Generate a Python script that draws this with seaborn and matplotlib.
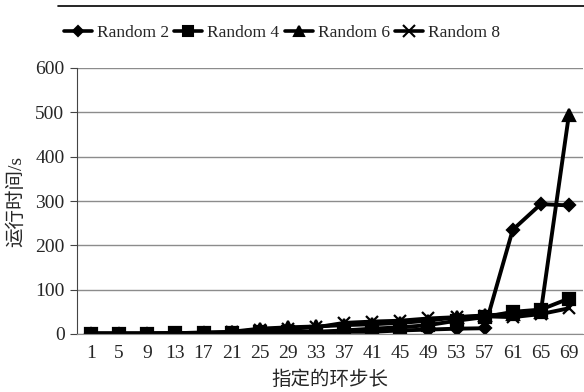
import numpy as np
import pandas as pd
import seaborn as sns
import matplotlib.pyplot as plt
from matplotlib.lines import Line2D

steps = [1, 5, 9, 13, 17, 21, 25, 29, 33, 37, 41, 45, 49, 53, 57, 61, 65, 69]
random2 = [1, 1, 1, 1, 2, 2, 3, 3, 3, 5, 5, 8, 10, 12, 13, 235, 293, 290]
random4 = [1, 1, 1, 2, 2, 3, 5, 5, 5, 8, 12, 15, 20, 30, 38, 50, 55, 80]
random6 = [1, 1, 1, 2, 3, 5, 12, 15, 17, 20, 22, 25, 30, 38, 42, 45, 50, 495]
random8 = [1, 1, 1, 2, 3, 4, 10, 12, 15, 25, 28, 30, 35, 38, 40, 38, 45, 58]
series_names = ["Random 2", "Random 4", "Random 6", "Random 8"]

df = pd.DataFrame({
    "pos": list(range(len(steps))) * 4,
    "value": random2 + random4 + random6 + random8,
    "series": sum([[n] * len(steps) for n in series_names], []),
})

sns.set_style("white")
plt.rcParams['font.family'] = ['Liberation Serif', 'Noto Sans CJK SC']

fig = plt.figure(figsize=(5.84, 3.92), dpi=100)
ax = fig.add_axes([77 / 584, 1 - 334 / 392, 506 / 584, 266 / 392])

markers = {"Random 2": "D", "Random 4": "s", "Random 6": "^", "Random 8": "x"}
sizes = {"Random 2": 6.5, "Random 4": 8, "Random 6": 8, "Random 8": 9}
for name in series_names:
    sub = df[df["series"] == name]
    sns.lineplot(data=sub, x="pos", y="value", ax=ax, color="black", lw=2.8,
                 marker=markers[name], markersize=sizes[name], markeredgewidth=1.6,
                 markeredgecolor="black", label=name)

ax.set_xlim(-0.5, len(steps) - 0.5)
ax.set_ylim(0, 600)
ax.set_yticks(range(0, 601, 100))
ax.set_xticks(range(len(steps)))
ax.set_xticklabels([str(s) for s in steps])
ax.set_xticks(np.arange(-0.5, len(steps), 1), minor=True)
ax.tick_params(axis="x", which="major", length=0, labelsize=14, pad=8)
ax.tick_params(axis="x", which="minor", length=6, width=0.8, color="#444444", direction="out")
ax.tick_params(axis="y", length=5, width=0.8, color="#444444", labelsize=14, direction="out",
               left=True, pad=4)
ax.yaxis.grid(True, color="#8c8c8c", lw=1)
ax.xaxis.grid(False)
for s in ["top", "right"]:
    ax.spines[s].set_visible(False)
ax.spines["left"].set_color("#444444")
ax.spines["bottom"].set_color("#8c8c8c")
ax.set_xlabel("指定的环步长", fontsize=14, labelpad=6)
ax.set_ylabel("运行时间/s", fontsize=14, labelpad=7)

ax.legend_.remove()
handles = [Line2D([0], [0], color="black", lw=2.6, marker=markers[n], markersize=sizes[n] - 1,
                  markeredgewidth=1.5) for n in series_names]
fig.legend(handles, series_names, loc="center", bbox_to_anchor=(282 / 584, 1 - 33 / 392), ncol=4,
           frameon=False, fontsize=12.5, handlelength=1.6, handletextpad=0.3, columnspacing=0.3)

fig.add_artist(Line2D([58 / 584, 1.0], [1 - 6 / 392, 1 - 6 / 392], color="black", lw=1.2))

fig.savefig("out.png", dpi=100)
